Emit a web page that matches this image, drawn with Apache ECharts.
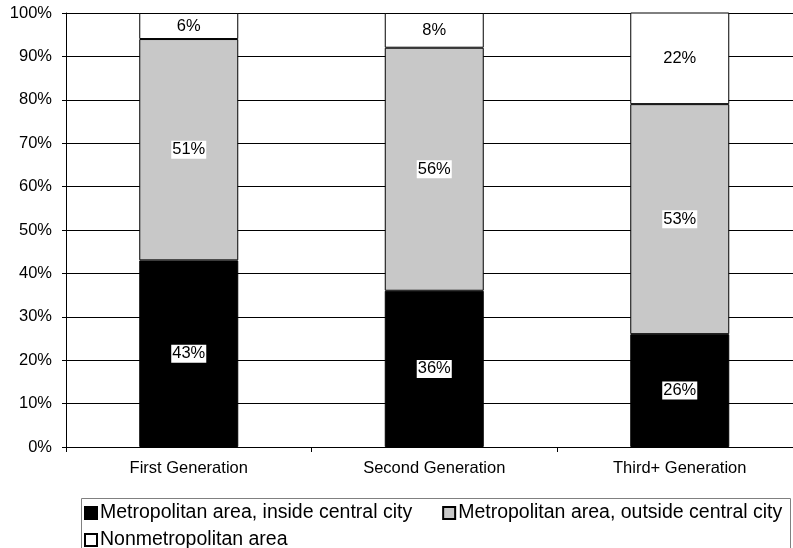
<!DOCTYPE html>
<html>
<head>
<meta charset="utf-8">
<script src="https://cdn.jsdelivr.net/npm/echarts@6/dist/echarts.min.js"></script>
<style>
  html, body { margin: 0; padding: 0; background: #fff; }
  #chart { width: 793px; height: 548px; }
</style>
</head>
<body>
<div id="chart"></div>
<script>
// Where each generation lives, shares in percent
const generations = ['First Generation', 'Second Generation', 'Third+ Generation'];
const insideCentralCity = [43, 36, 26];
const outsideCentralCity = [51, 56, 53];
const nonmetropolitan = [6, 8, 22];
const yTicks = [0, 10, 20, 30, 40, 50, 60, 70, 80, 90, 100];

const seriesNames = [
  'Metropolitan area, inside central city',
  'Metropolitan area, outside central city',
  'Nonmetropolitan area'
];

const FONT = '"Liberation Sans", Arial, sans-serif';

const chart = echarts.init(document.getElementById('chart'), null, { renderer: 'canvas' });

function barSeries(name, data, fill) {
  return {
    name: name,
    type: 'bar',
    stack: 'share',
    data: data,
    barWidth: 99,
    clip: true,
    itemStyle: { color: fill, borderColor: '#000', borderWidth: 1 },
    label: {
      show: true,
      position: 'inside',
      formatter: '{c}%',
      color: '#000',
      backgroundColor: '#fff',
      fontFamily: FONT,
      fontSize: 16.5,
      padding: [1, 1, 0, 1]
    },
    emphasis: { disabled: true }
  };
}

const legendText = { color: '#000', fontFamily: FONT, fontSize: 19.5, padding: [0, 0, 0, -2] };

chart.setOption({
  animation: false,
  backgroundColor: '#fff',
  grid: {
    left: 66,
    top: 13,
    width: 736.5,
    height: 434,
    outerBoundsMode: 'none'
  },
  xAxis: {
    type: 'category',
    data: generations,
    boundaryGap: true,
    axisLine: { show: true, lineStyle: { color: '#000', width: 1 } },
    axisTick: { show: true, alignWithLabel: false, length: 5, lineStyle: { color: '#000' } },
    axisLabel: { color: '#000', fontFamily: FONT, fontSize: 16.5, margin: 13 },
    splitLine: { show: false }
  },
  yAxis: {
    type: 'value',
    min: yTicks[0],
    max: yTicks[yTicks.length - 1],
    interval: yTicks[1] - yTicks[0],
    axisLine: { show: true, lineStyle: { color: '#000', width: 1 } },
    axisTick: { show: true, length: 4, inside: false, lineStyle: { color: '#000' } },
    axisLabel: { color: '#000', fontFamily: FONT, fontSize: 16.5, margin: 14, formatter: '{value}%' },
    splitLine: { show: true, lineStyle: { color: '#000', width: 1 } }
  },
  legend: [
    {
      data: [seriesNames[0], seriesNames[1]],
      left: 84,
      top: 503,
      padding: 0,
      icon: 'rect',
      itemWidth: 12,
      itemHeight: 12,
      itemGap: 30,
      textStyle: legendText,
      selectedMode: false
    },
    {
      data: [seriesNames[2]],
      left: 84,
      top: 530,
      padding: 0,
      icon: 'rect',
      itemWidth: 12,
      itemHeight: 12,
      textStyle: legendText,
      selectedMode: false
    }
  ],
  graphic: [
    {
      type: 'rect',
      left: 79,
      top: 496,
      shape: { width: 709, height: 60 },
      style: { fill: 'none', stroke: '#808080', lineWidth: 1 },
      silent: true
    }
  ],
  series: [
    barSeries(seriesNames[0], insideCentralCity, '#000'),
    barSeries(seriesNames[1], outsideCentralCity, '#c8c8c8'),
    barSeries(seriesNames[2], nonmetropolitan, '#fff')
  ]
});
</script>
</body>
</html>
